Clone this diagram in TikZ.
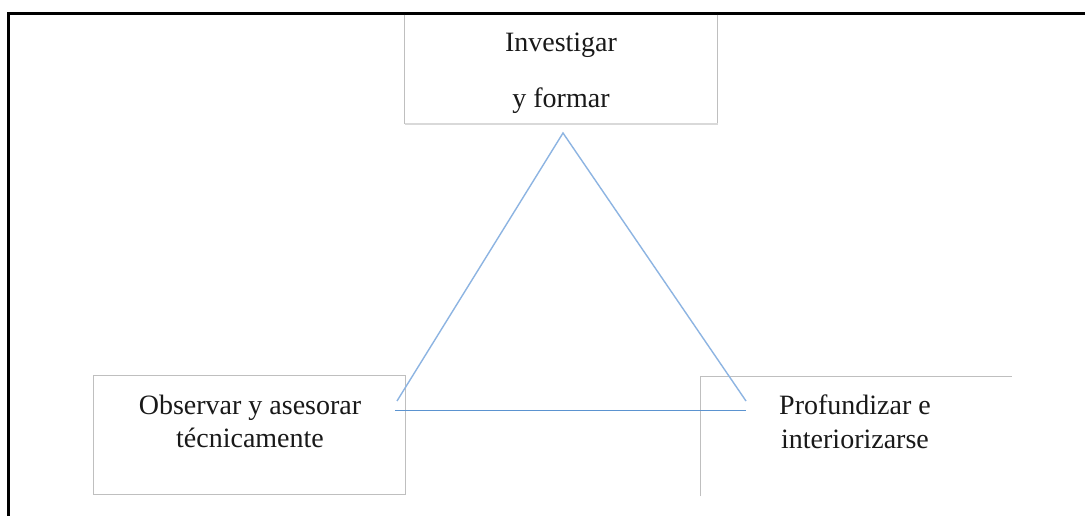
\documentclass[tikz,border=0pt]{standalone}
\usepackage{fontspec}
\setmainfont{Liberation Serif}
\definecolor{boxgrey}{HTML}{BFBFBF}
\definecolor{boxlight}{HTML}{D9D9D9}
\definecolor{triblue}{HTML}{8DB4E2}
\definecolor{baseblue}{HTML}{5B93D0}
\begin{document}
\begin{tikzpicture}[x=1pt,y=-1pt,
  font=\fontsize{28}{33.6}\selectfont,
  frameline/.style={draw=black, line width=2.4pt},
  boxline/.style={draw=boxgrey, line width=1pt},
  boxlightline/.style={draw=boxlight, line width=1.2pt},
  tri/.style={draw=triblue, line width=1.4pt},
  basetri/.style={draw=baseblue, line width=1.6pt},
  lbl/.style={anchor=base, inner sep=0pt, text=black!90}]
\useasboundingbox (0,0) rectangle (1085,516);
\fill[white] (0,0) rectangle (1085,516);
% outer frame
\coordinate (fBL) at (8.5,520);
\coordinate (fTL) at (8.5,13.5);
\coordinate (fTR) at (1090,13.5);
\draw[frameline] (fBL) -- (fTL) -- (fTR);
% top box
\coordinate (tTL) at (404.5,14.7);
\coordinate (tBL) at (404.5,124);
\coordinate (tBR) at (717.5,124);
\coordinate (tTR) at (717.5,14.7);
\draw[boxline] (tTL) -- (tBL);
\draw[boxline] (tTR) -- (tBR);
\draw[boxlightline] (tBL) -- (tBR);
\node[lbl] (inv) at (561,52) {Investigar};
\node[lbl] (form) at (561,108) {y formar};
% left box
\node[boxline, minimum width=312pt, minimum height=119pt, inner sep=0pt] (lbox) at (249,434.5) {};
\node[lbl] (obs) at (250,414) {Observar y asesorar};
\node[lbl] (tec) at (250,447) {técnicamente};
% right box
\coordinate (rBL) at (700.5,496);
\coordinate (rTL) at (700.5,376);
\coordinate (rTR) at (1012,376);
\draw[boxline] (rBL) -- (rTL) -- (rTR);
\node[lbl] (prof) at (855,414) {Profundizar e};
\node[lbl] (inte) at (855,448) {interiorizarse};
% triangle
\coordinate (apex) at (563,133);
\coordinate (tl) at (397,401);
\coordinate (tr) at (746,401);
\coordinate (bl) at (395,410.5);
\coordinate (br) at (746,410.5);
\draw[tri] (tl) -- (apex) -- (tr);
\draw[basetri] (bl) -- (br);
\end{tikzpicture}
\end{document}
